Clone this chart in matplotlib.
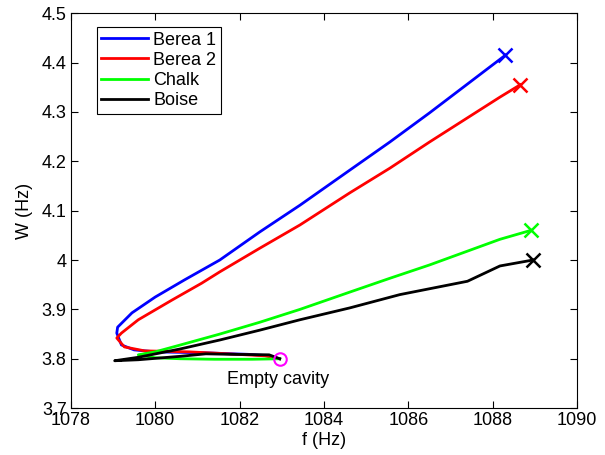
import matplotlib.pyplot as plt

plt.rcParams['font.family'] = ['Liberation Sans', 'DejaVu Sans']

# path of each sample: starts at the empty cavity point, ends at the 'x'
berea1_f = [1082.95, 1082.7, 1082.2, 1081.2, 1080.0, 1079.5, 1079.2, 1079.09,
            1079.11, 1079.45, 1080.0, 1080.7, 1081.53, 1082.48, 1083.43,
            1084.61, 1085.56, 1086.5, 1088.3]
berea1_w = [3.800, 3.806, 3.809, 3.812, 3.814, 3.818, 3.828, 3.852,
            3.864, 3.893, 3.925, 3.960, 4.000, 4.057, 4.111,
            4.182, 4.239, 4.298, 4.415]

berea2_f = [1082.95, 1082.6, 1081.5, 1080.8, 1079.75, 1079.27, 1079.09,
            1079.2, 1079.6, 1080.4, 1081.1, 1081.53, 1082.48, 1083.43,
            1084.61, 1085.56, 1086.5, 1088.17, 1088.65]
berea2_w = [3.800, 3.806, 3.811, 3.814, 3.816, 3.824, 3.842,
            3.852, 3.879, 3.919, 3.953, 3.976, 4.024, 4.071,
            4.136, 4.186, 4.239, 4.330, 4.355]

chalk_f = [1082.95, 1082.3, 1081.4, 1080.6, 1080.0, 1079.6, 1080.0, 1080.6,
           1081.53, 1082.48, 1083.43, 1084.61, 1085.56, 1086.5, 1088.17,
           1088.9]
chalk_w = [3.800, 3.799, 3.799, 3.800, 3.802, 3.808, 3.814, 3.828,
           3.850, 3.874, 3.900, 3.935, 3.963, 3.990, 4.042,
           4.060]

boise_f = [1082.95, 1082.7, 1081.8, 1081.2, 1080.6, 1079.6, 1079.04, 1079.6,
           1080.6, 1081.53, 1082.48, 1083.43, 1084.61, 1085.8, 1087.4,
           1088.17, 1088.95]
boise_w = [3.800, 3.808, 3.809, 3.810, 3.805, 3.798, 3.796, 3.803,
           3.820, 3.838, 3.858, 3.879, 3.903, 3.930, 3.957,
           3.988, 4.000]

names = ['Berea 1', 'Berea 2', 'Chalk', 'Boise']
colors = ['#0000ff', '#ff0000', '#00ff00', '#000000']
paths = [(berea1_f, berea1_w), (berea2_f, berea2_w),
         (chalk_f, chalk_w), (boise_f, boise_w)]

empty_f = 1082.95
empty_w = 3.800

fig = plt.figure(figsize=(6.05, 4.55), dpi=100)
ax = fig.add_axes([0.117, 0.103, 0.837, 0.868])

for (f, w), name, c in zip(paths, names, colors):
    ax.plot(f, w, color=c, lw=2, label=name, solid_joinstyle='round')
    ax.plot(f[-1], w[-1], 'x', color=c, ms=10, mew=1.8)

ax.plot(empty_f, empty_w, 'o', mfc='none', mec='#ff00ff', ms=9, mew=1.5)
ax.text(1081.7, 3.757, 'Empty cavity', fontsize=13, va='center')

ax.set_xlim(1078, 1090)
ax.set_ylim(3.7, 4.5)
ax.set_xticks(range(1078, 1091, 2))
ax.set_yticks([3.7, 3.8, 3.9, 4.0, 4.1, 4.2, 4.3, 4.4, 4.5])
ax.set_yticklabels(['3.7', '3.8', '3.9', '4', '4.1', '4.2', '4.3', '4.4', '4.5'])
ax.tick_params(direction='in', labelsize=13, top=True, right=True, length=5,
               pad=3)
ax.set_xlabel('f (Hz)', fontsize=13, labelpad=2)
ax.set_ylabel('W (Hz)', fontsize=13, labelpad=6)

leg = ax.legend(loc='upper left', bbox_to_anchor=(0.051, 0.965), fontsize=13,
                fancybox=False, edgecolor='black', framealpha=1,
                handlelength=2.6, handletextpad=0.3, borderpad=0.25,
                labelspacing=0.18, borderaxespad=0)
leg.get_frame().set_linewidth(0.8)

fig.savefig('out.png', dpi=100)
